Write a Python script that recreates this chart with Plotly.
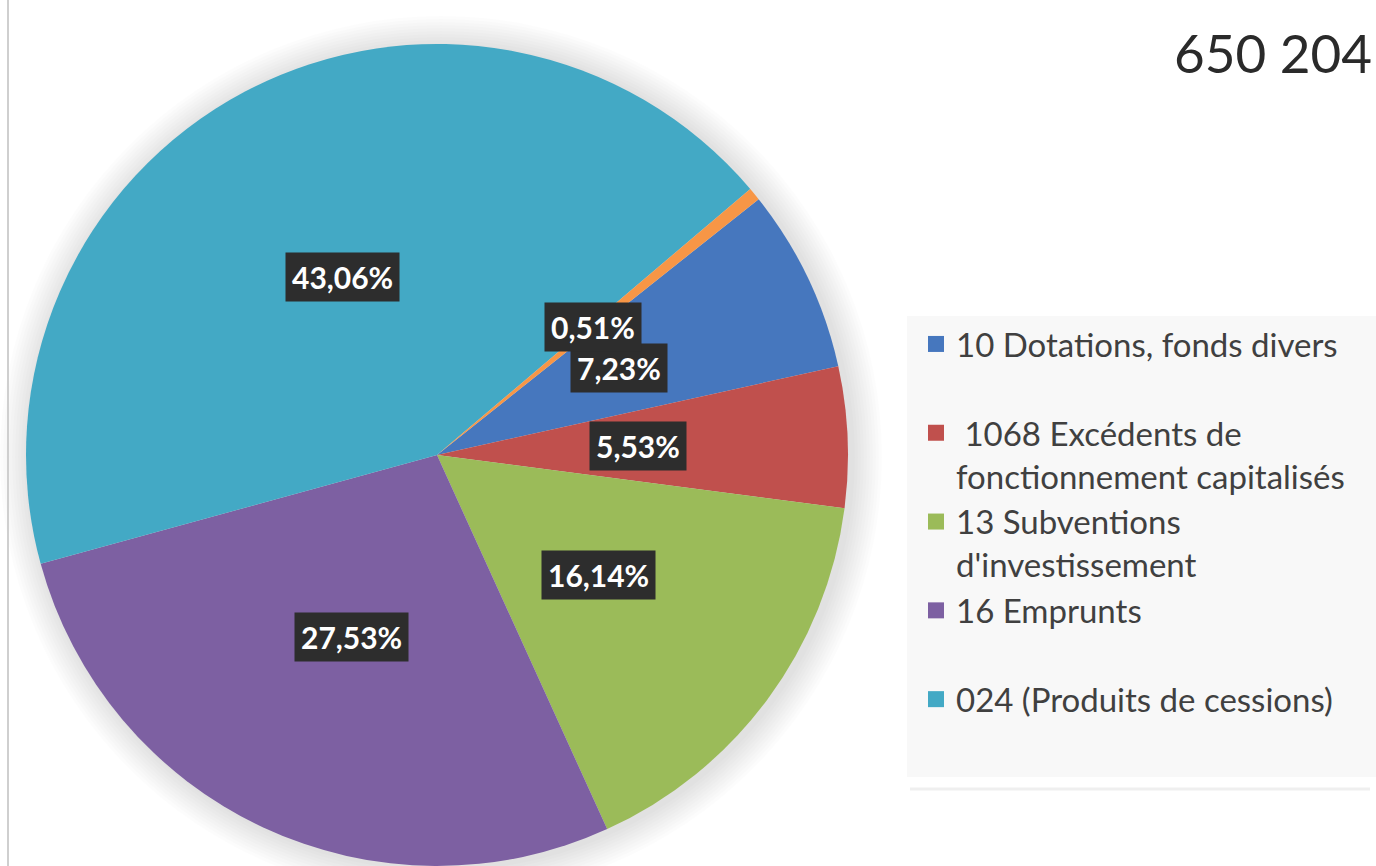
import math
import plotly.graph_objects as go

# ---------------- data ----------------
legend_labels = [
    "10 Dotations, fonds divers",
    " 1068 Excédents de<br>fonctionnement capitalisés",
    "13 Subventions<br>d'investissement",
    "16 Emprunts",
    "024 (Produits de cessions)",
]
slice_labels = [
    "10 Dotations, fonds divers",
    "1068 Excédents de fonctionnement capitalisés",
    "13 Subventions d'investissement",
    "16 Emprunts",
    "024 (Produits de cessions)",
    "Autres",
]
values = [7.23, 5.53, 16.14, 27.53, 43.06, 0.51]
colors = ["#4677be", "#c0504d", "#9bbb59", "#7d60a2", "#43a9c5", "#f79646"]
title_text = "650 204"

# ---------------- geometry ----------------
W, H = 1376, 866
cx, cy, r = 437, 455, 411
rotation = 51.5

fig = go.Figure()

fig.add_trace(go.Pie(
    labels=slice_labels,
    values=values,
    sort=False,
    direction="clockwise",
    rotation=rotation,
    marker=dict(colors=colors, line=dict(width=0)),
    textinfo="none",
    hoverinfo="label+percent",
    showlegend=False,
    domain=dict(x=[(cx - r) / W, (cx + r) / W], y=[0, (2 * r) / H]),
))

# legend entries (orange slice is not in the reference legend)
for lab, col in zip(legend_labels, colors[:5]):
    text = lab if "<br>" in lab else lab + "<br> "
    fig.add_trace(go.Scatter(
        x=[None], y=[None], mode="markers", name=text,
        marker=dict(symbol="square", size=16, color=col),
        legendgroup=lab,
    ))

# data labels (computed from the values)
total = sum(values)
cum = 0.0
annotations = []
for v in values:
    mid = rotation + (cum + v / 2) / total * 360.0
    cum += v
    a = math.radians(mid)
    px = cx + 0.49 * r * math.sin(a)
    py = cy - 0.49 * r * math.cos(a)
    annotations.append(dict(
        x=px / W, y=1 - py / H, xref="paper", yref="paper",
        xanchor="center", yanchor="middle",
        text="<b>" + f"{v:.2f}".replace(".", ",") + "%</b>",
        showarrow=False, bgcolor="#2d2d2d", borderpad=6,
        font=dict(family="Lato", size=30, color="white"),
    ))

annotations.append(dict(
    x=1172 / W, y=1 - 52 / H, xref="paper", yref="paper",
    xanchor="left", yanchor="middle", text=title_text, showarrow=False,
    font=dict(family="Lato", size=53, color="#2a2a2a"),
))

shapes = []
# soft shadow around the pie
for i in range(10):
    R = r + 3 + i * 3
    shapes.append(dict(
        type="circle", xref="paper", yref="paper", layer="below",
        x0=(cx - R + 4) / W, x1=(cx + R + 4) / W,
        y0=1 - (cy + R + 2) / H, y1=1 - (cy - R + 2) / H,
        fillcolor="rgba(0,0,0,0.010)", line=dict(width=0),
    ))
# legend background
shapes.append(dict(
    type="rect", xref="paper", yref="paper", layer="below",
    x0=907 / W, x1=1, y0=1 - 777 / H, y1=1 - 316 / H,
    fillcolor="#f8f8f8", line=dict(width=0),
))
shapes.append(dict(
    type="line", xref="paper", yref="paper", layer="below",
    x0=910 / W, x1=1370 / W, y0=1 - 789 / H, y1=1 - 789 / H,
    line=dict(color="#efefef", width=3),
))
# left frame line
shapes.append(dict(
    type="line", xref="paper", yref="paper",
    x0=8 / W, x1=8 / W, y0=0, y1=1,
    line=dict(color="#cfcfcf", width=2),
))

fig.update_layout(
    width=W, height=H,
    margin=dict(l=0, r=0, t=0, b=0),
    paper_bgcolor="white", plot_bgcolor="white",
    xaxis=dict(visible=False), yaxis=dict(visible=False),
    annotations=annotations,
    shapes=shapes,
    showlegend=True,
    legend=dict(
        x=916 / W, y=1 - 316 / H, xanchor="left", yanchor="top",
        bgcolor="rgba(0,0,0,0)", valign="top",
        font=dict(family="Lato", size=33, color="#404040"),
        tracegroupgap=0, itemsizing="trace",
    ),
)

fig.write_html(
    "out.html",
    config={"displayModeBar": False},
    post_script="document.body.style.margin='0px';document.body.style.overflow='hidden';",
)
